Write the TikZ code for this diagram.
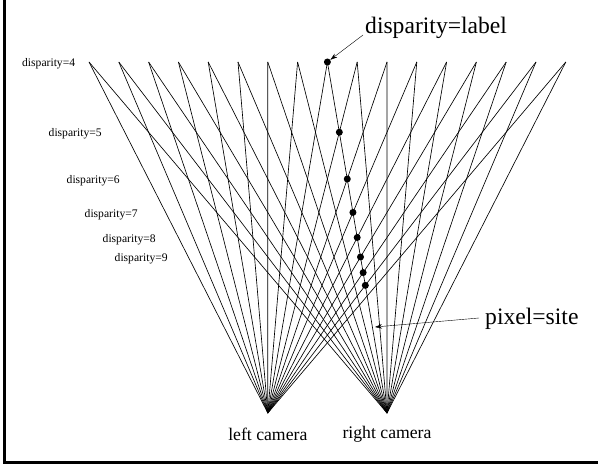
\documentclass[tikz,border=0pt]{standalone}
\usepackage{fontspec}
\setmainfont{Liberation Serif}
\usetikzlibrary{calc, arrows.meta}

\begin{document}
\begin{tikzpicture}[x=1pt, y=-1pt, >={Stealth[length=7pt, width=4.5pt]},
    ray/.style={line width=0.65pt},
    dotmark/.style={circle, fill, inner sep=0pt, minimum size=7pt},
    smalllab/.style={anchor=west, inner sep=0pt, font=\fontsize{11.6}{13}\selectfont},
    biglab/.style={anchor=west, inner sep=0pt, font=\fontsize{23.6}{26}\selectfont},
    camlab/.style={font=\fontsize{17.7}{20}\selectfont}]

    \useasboundingbox (0,0) rectangle (598,465);

    % --- Frame ---
    \draw[line width=2.4pt] (4.5,0) -- (4.5,462.5) -- (598,462.5);

    % --- Cameras and top points ---
    \coordinate (lcam) at (267.8,413);
    \coordinate (rcam) at (387.0,413);
    \foreach \k in {0,...,16}
        \coordinate (t\k) at ({89+29.8*\k},62);

    % --- Rays from both cameras ---
    \foreach \k in {0,...,16} {
        \draw[ray] (lcam) -- (t\k);
        \draw[ray] (rcam) -- (t\k);
    }

    % --- Dots along the right ray to the middle point ---
    \foreach \m in {0,...,7} {
        \pgfmathsetmacro{\f}{4/(4+\m)}
        \node[dotmark] (d\m) at ($(rcam)!\f!(t8)$) {};
    }

    % --- Disparity labels ---
    \foreach \d/\xl in {4/22, 5/48.5, 6/66.5, 7/84.5, 8/102.5, 9/114.5}
        \node[smalllab] (lab\d) at (\xl, {415-351*4/\d}) {disparity=\d};

    % --- Annotations ---
    \node[biglab] (lbl) at (365,28) {disparity=label};
    \coordinate (lbltail) at (363,35);
    \draw[->] (lbltail) -- (d0);

    \node[biglab] (pix) at (485,319) {pixel=site};
    \coordinate (pixtail) at (479,318);
    \coordinate (pixtip) at (375,327);
    \draw[->] (pixtail) -- (pixtip);

    % --- Camera labels ---
    \node[camlab] (lcamlab) at (267.8,434) {left camera};
    \node[camlab] (rcamlab) at (387.0,434) {right camera};

\end{tikzpicture}
\end{document}
